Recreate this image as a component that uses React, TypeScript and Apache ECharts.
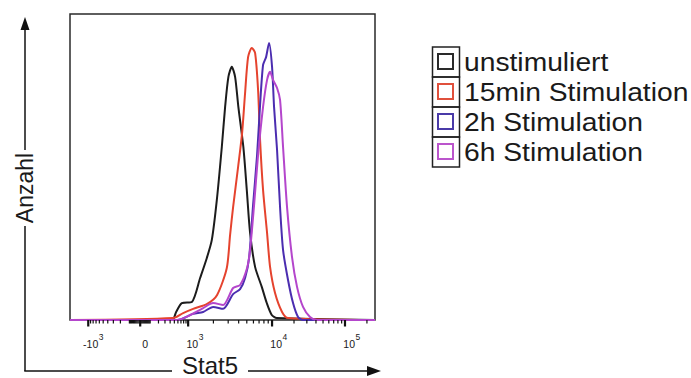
import React, { useEffect, useRef } from "react";
import * as echarts from "echarts";

// ---------- data (raw fluorescence values / % of mode) ----------
const SERIES_NAMES = ["unstimuliert", "15min Stimulation", "2h Stimulation", "6h Stimulation"];
const SERIES_COLORS = ["#1c1c1c", "#e5432e", "#4b2db0", "#b446cc"];
const LEGEND_COLORS = ["#2a2a2a", "#e0503c", "#4a3aa8", "#bb55cc"];

const X_RANGE_RAW = [-1650, 258000];
const Y_MAX = 110;

const unstimX = [-1650, 445, 548, 732, 1107, 1389, 1670, 1915, 2196, 2519, 2758, 3018, 3313, 3627, 3966, 4548, 5000, 5472, 6276, 7541, 8648, 9918, 11600, 258000];
const unstimY = [0, 0, 2.9, 6.1, 6.5, 15.1, 22.3, 28.8, 43.1, 62.2, 76.6, 87.4, 91.0, 87.4, 76.6, 62.2, 46.7, 31.3, 19.1, 11.9, 6.1, 1.8, 0.7, 0];

const min15X = [-1650, 470, 781, 1147, 1684, 2214, 2888, 3162, 3434, 3938, 4394, 4771, 5179, 5733, 6276, 6813, 7197, 7814, 8719, 9467, 10990, 13710, 16560, 258000];
const min15Y = [0, 0.7, 2.5, 4.0, 5.8, 9.0, 18.7, 30.6, 40.6, 55.0, 67.2, 81.6, 94.5, 97.8, 96.0, 82.7, 64.7, 46.7, 31.3, 19.1, 9.7, 2.9, 0.7, 0];

const h2X = [-1650, 578, 1147, 1509, 1984, 2610, 3434, 4159, 4771, 5324, 5941, 6630, 7197, 7814, 8483, 9211, 10000, 10650, 11710, 12870, 14150, 16560, 19400, 22710, 26590, 258000];
const h2Y = [0, 0, 2.2, 2.9, 4.7, 4.0, 9.3, 11.1, 15.1, 22.3, 41.3, 59.3, 77.3, 91.7, 94.5, 99.6, 91.0, 76.6, 61.1, 40.6, 25.2, 14.4, 6.1, 1.1, 0, 0];

const h6X = [-1650, 578, 1056, 1509, 1984, 2610, 3434, 4159, 5040, 5472, 6105, 6813, 7814, 8719, 9467, 10320, 11710, 12870, 14150, 16050, 18790, 22000, 26590, 33150, 41340, 258000];
const h6Y = [0, 0, 1.8, 4.3, 6.1, 5.4, 11.5, 12.6, 18.7, 25.2, 41.3, 59.3, 76.6, 86.3, 89.2, 86.3, 83.4, 79.1, 62.2, 40.6, 22.6, 11.9, 4.7, 1.1, 0, 0];

const SERIES_X = [unstimX, min15X, h2X, h6X];
const SERIES_Y = [unstimY, min15Y, h2Y, h6Y];

const TICK_LABEL_VALUES = [-1000, 0, 1000, 10000, 100000];
const TICK_LABEL_BASE = ["-10", "0", "10", "10", "10"];
const TICK_LABEL_EXP = ["3", "", "3", "4", "5"];

const X_TITLE = "Stat5";
const Y_TITLE = "Anzahl";

// ---------- biexponential-like display transform ----------
const LIN_C = 200;
const LIN_SPAN_POS = 48 / 84;
const LIN_SPAN_NEG = 52 / 84;
const HIGH_DECADE = 73 / 84;
function toDisplay(v: number): number {
  const norm = Math.asinh(1000 / LIN_C);
  if (v >= 0) {
    if (v <= 1000) return (LIN_SPAN_POS * Math.asinh(v / LIN_C)) / norm;
    if (v <= 1e4) return LIN_SPAN_POS + Math.log10(v / 1000);
    return LIN_SPAN_POS + 1 + HIGH_DECADE * Math.log10(v / 1e4);
  }
  const a = -v;
  if (a <= 1000) return (-LIN_SPAN_NEG * Math.asinh(a / LIN_C)) / norm;
  return -LIN_SPAN_NEG - Math.log10(a / 1000);
}

function buildTicks() {
  const ticks: { v: number; major: boolean }[] = [];
  TICK_LABEL_VALUES.forEach((v) => ticks.push({ v, major: true }));
  [10, 100, 1000, 10000, 100000].forEach((d) => {
    for (let m = 2; m <= 9; m++) {
      ticks.push({ v: m * d, major: false });
      ticks.push({ v: -m * d, major: false });
    }
  });
  ticks.push({ v: 10, major: false });
  ticks.push({ v: -10, major: false });
  ticks.push({ v: 100, major: false });
  ticks.push({ v: -100, major: false });
  return ticks.filter((t) => t.v >= X_RANGE_RAW[0] && t.v <= X_RANGE_RAW[1]);
}

const FONT = "'Liberation Sans', Arial, sans-serif";

export default function App() {
  const ref = useRef<HTMLDivElement>(null);
  useEffect(() => {
    document.body.style.margin = "0";
    if (!ref.current) return;
    const chart = echarts.init(ref.current, null, { renderer: "svg" });
    const ticks = buildTicks();

    const lineSeries = SERIES_NAMES.map((name, i) => ({
      name,
      type: "line",
      data: SERIES_X[i].map((x, j) => [toDisplay(x), SERIES_Y[i][j]]),
      showSymbol: false,
      symbol: "none",
      smooth: 0.25,
      clip: false,
      z: 3 + i,
      lineStyle: { color: SERIES_COLORS[i], width: 2 },
      itemStyle: { color: SERIES_COLORS[i] },
    }));

    const legendGraphics: any[] = [];
    SERIES_NAMES.forEach((name, i) => {
      legendGraphics.push({
        type: "rect",
        shape: { x: 432.5, y: 47 + 30 * i, width: 27, height: 30 },
        style: { fill: "none", stroke: "#222", lineWidth: 1.5 },
      });
      legendGraphics.push({
        type: "rect",
        shape: { x: 438, y: 54 + 30 * i, width: 15, height: 15 },
        style: { fill: "#fff", stroke: LEGEND_COLORS[i], lineWidth: 2 },
      });
      legendGraphics.push({
        type: "text",
        x: 464,
        y: 63 + 30 * i,
        scaleX: 1.13,
        style: { text: name, fontSize: 25, fontFamily: FONT, fill: "#1a1a1a", verticalAlign: "middle", align: "left" },
      });
    });

    const axisGraphics: any[] = [
      // y arrow
      { type: "line", shape: { x1: 25, y1: 371, x2: 25, y2: 226 }, style: { stroke: "#111", lineWidth: 1.5 } },
      { type: "line", shape: { x1: 25, y1: 150, x2: 25, y2: 28 }, style: { stroke: "#111", lineWidth: 1.5 } },
      { type: "polygon", shape: { points: [[25, 17], [20.5, 30], [29.5, 30]] }, style: { fill: "#111" } },
      {
        type: "text",
        x: 25,
        y: 188,
        rotation: Math.PI / 2,
        style: { text: Y_TITLE, fontSize: 23, fontFamily: FONT, fill: "#1a1a1a", align: "center", verticalAlign: "middle" },
      },
      // x arrow
      { type: "line", shape: { x1: 24.25, y1: 371, x2: 172, y2: 371 }, style: { stroke: "#111", lineWidth: 1.5 } },
      { type: "line", shape: { x1: 248, y1: 371, x2: 369, y2: 371 }, style: { stroke: "#111", lineWidth: 1.5 } },
      { type: "polygon", shape: { points: [[381, 371], [367, 366], [367, 376]] }, style: { fill: "#111" } },
      {
        type: "text",
        x: 210,
        y: 365,
        style: { text: X_TITLE, fontSize: 24, fontFamily: FONT, fill: "#1a1a1a", align: "center", verticalAlign: "middle" },
      },
    ];

    chart.setOption({
      animation: false,
      backgroundColor: "#ffffff",
      grid: {
        left: 70,
        right: 316,
        top: 14,
        bottom: 58,
        show: true,
        borderColor: "#2a2a2a",
        borderWidth: 1.5,
        backgroundColor: "transparent",
      },
      xAxis: {
        type: "value",
        min: toDisplay(X_RANGE_RAW[0]),
        max: toDisplay(X_RANGE_RAW[1]),
        axisLine: { show: false },
        axisTick: { show: false },
        axisLabel: { show: false },
        splitLine: { show: false },
      },
      yAxis: {
        type: "value",
        min: 0,
        max: Y_MAX,
        axisLine: { show: false },
        axisTick: { show: false },
        axisLabel: { show: false },
        splitLine: { show: false },
      },
      graphic: [...legendGraphics, ...axisGraphics],
      series: [
        ...lineSeries,
        {
          type: "custom",
          coordinateSystem: "cartesian2d",
          silent: true,
          clip: false,
          z: 10,
          data: ticks.map((t) => [toDisplay(t.v), 0, t.major ? 1 : 0]),
          renderItem: (params: any, api: any) => {
            const p = api.coord([api.value(0), 0]);
            const major = api.value(2) === 1;
            return {
              type: "line",
              shape: { x1: p[0], y1: p[1], x2: p[0], y2: p[1] + (major ? 6.5 : 3.5) },
              style: { stroke: "#111", lineWidth: major ? 2.2 : 1.2 },
            };
          },
        },
        {
          type: "custom",
          coordinateSystem: "cartesian2d",
          silent: true,
          clip: false,
          z: 10,
          data: TICK_LABEL_VALUES.map((v, i) => [toDisplay(v), 0, i]),
          renderItem: (params: any, api: any) => {
            const p = api.coord([api.value(0), 0]);
            const idx = api.value(2);
            const base = TICK_LABEL_BASE[idx];
            const exp = TICK_LABEL_EXP[idx];
            if (!exp) {
              return {
                type: "text",
                x: p[0] + 5,
                y: p[1] + 24,
                style: { text: base, fontSize: 10.5, fontFamily: FONT, fill: "#1a1a1a", align: "center", verticalAlign: "middle" },
              };
            }
            const join = p[0] + 10;
            return {
              type: "group",
              children: [
                {
                  type: "text",
                  x: join,
                  y: p[1] + 24,
                  style: { text: base, fontSize: 10.5, fontFamily: FONT, fill: "#1a1a1a", align: "right", verticalAlign: "middle" },
                },
                {
                  type: "text",
                  x: join + 0.5,
                  y: p[1] + 16.5,
                  style: { text: exp, fontSize: 8.5, fontFamily: FONT, fill: "#1a1a1a", align: "left", verticalAlign: "middle" },
                },
              ],
            };
          },
        },
      ],
    });
    return () => chart.dispose();
  }, []);
  return <div ref={ref} style={{ width: 691, height: 378 }} />;
}
